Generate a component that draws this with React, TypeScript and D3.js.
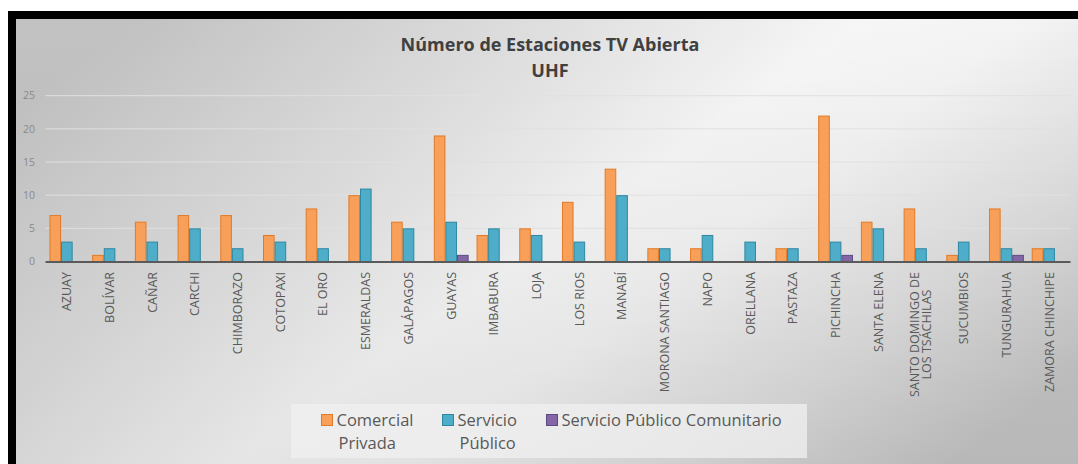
import React, { useEffect, useRef } from 'react';
import * as d3 from 'd3';

// provinces as printed on the axis ("\n" = forced line break)
const provincias = [
  'AZUAY', 'BOLÍVAR', 'CAÑAR', 'CARCHI', 'CHIMBORAZO', 'COTOPAXI', 'EL ORO',
  'ESMERALDAS', 'GALÁPAGOS', 'GUAYAS', 'IMBABURA', 'LOJA', 'LOS RIOS', 'MANABÍ',
  'MORONA SANTIAGO', 'NAPO', 'ORELLANA', 'PASTAZA', 'PICHINCHA', 'SANTA  ELENA',
  'SANTO DOMINGO DE\nLOS TSÁCHILAS', 'SUCUMBIOS', 'TUNGURAHUA', 'ZAMORA CHINCHIPE',
];

const comercialPrivada = [7, 1, 6, 7, 7, 4, 8, 10, 6, 19, 4, 5, 9, 14, 2, 2, 0, 2, 22, 6, 8, 1, 8, 2];
const servicioPublico = [3, 2, 3, 5, 2, 3, 2, 11, 5, 6, 5, 4, 3, 10, 2, 4, 3, 2, 3, 5, 2, 3, 2, 2];
const servicioComunitario = [0, 0, 0, 0, 0, 0, 0, 0, 0, 1, 0, 0, 0, 0, 0, 0, 0, 0, 1, 0, 0, 0, 1, 0];

const yTicks = [0, 5, 10, 15, 20, 25];

const series = [
  { name: 'Comercial\nPrivada', values: comercialPrivada, fill: '#f8a05a', stroke: '#e27a25' },
  { name: 'Servicio\nPúblico', values: servicioPublico, fill: '#4eadc8', stroke: '#2f87a2' },
  { name: 'Servicio Público Comunitario', values: servicioComunitario, fill: '#8466a6', stroke: '#5e4a82' },
];

const W = 1078;
const H = 464;
const FONT = '"Open Sans", "DejaVu Sans", sans-serif';

export default function App() {
  const ref = useRef<SVGSVGElement>(null);

  useEffect(() => {
    const svg = d3.select(ref.current);
    svg.selectAll('*').remove();

    const defs = svg.append('defs');
    const g1 = defs.append('linearGradient').attr('id', 'bg').attr('x1', 0).attr('y1', 0.2).attr('x2', 1).attr('y2', 0.8);
    [[0, '#c2c2c2'], [0.3, '#e0e0e0'], [0.5, '#f6f6f6'], [0.62, '#f3f3f3'], [0.82, '#dedede'], [1, '#c6c6c6']]
      .forEach(([o, c]) => g1.append('stop').attr('offset', o as number).attr('stop-color', c as string));
    const g2 = defs.append('linearGradient').attr('id', 'shade').attr('x1', 0).attr('y1', 0).attr('x2', 0).attr('y2', 1);
    g2.append('stop').attr('offset', 0).attr('stop-color', '#000').attr('stop-opacity', 0);
    g2.append('stop').attr('offset', 1).attr('stop-color', '#000').attr('stop-opacity', 0.07);

    // frame
    svg.append('rect').attr('width', W).attr('height', H).attr('fill', '#fff');
    svg.append('rect').attr('x', 8).attr('y', 11).attr('width', W - 8).attr('height', H - 11).attr('fill', '#000');
    svg.append('rect').attr('x', 16).attr('y', 19).attr('width', W - 16).attr('height', H - 19).attr('fill', 'url(#bg)');
    svg.append('rect').attr('x', 16).attr('y', 19).attr('width', W - 16).attr('height', H - 19).attr('fill', 'url(#shade)');

    const x0 = d3.scaleBand<number>().domain(d3.range(provincias.length)).range([45.5, 1070.5]);
    const barW = 11.6;
    const x1 = d3.scaleBand<number>().domain([0, 1, 2])
      .range([0, barW * 3]);
    const groupOff = (x0.bandwidth() - barW * 3) / 2;
    const y = d3.scaleLinear().domain([0, 25]).range([261.5, 95.7]);

    // gridlines + y labels
    svg.append('g').selectAll('line').data(yTicks.slice(1)).join('line')
      .attr('x1', 45.5).attr('x2', 1070.5)
      .attr('y1', d => y(d)).attr('y2', d => y(d))
      .attr('stroke', '#e0e0e0').attr('stroke-width', 1);
    svg.append('g').selectAll('text').data(yTicks).join('text')
      .attr('x', 35).attr('y', d => y(d)).attr('dy', '0.35em')
      .attr('text-anchor', 'end').attr('font-family', FONT).attr('font-size', 10.5)
      .attr('fill', '#8a8a8a').text(d => d);

    // bars
    series.forEach((s, si) => {
      svg.append('g').selectAll('rect').data(s.values.map((v, i) => ({ v, i }))).join('rect')
        .filter(d => d.v > 0)
        .attr('x', d => x0(d.i)! + groupOff + x1(si)! + 0.5)
        .attr('y', d => y(d.v) + 0.5)
        .attr('width', barW - 1)
        .attr('height', d => y(0) - y(d.v) - 0.5)
        .attr('fill', s.fill).attr('stroke', s.stroke).attr('stroke-width', 1);
    });

    // axis line
    svg.append('line').attr('x1', 45.5).attr('x2', 1070.5).attr('y1', y(0) + 0.5).attr('y2', y(0) + 0.5)
      .attr('stroke', '#5a5a5a').attr('stroke-width', 2);

    // category labels, rotated; extra lines centred on the longest one
    const labelTop = 272;
    provincias.forEach((p, i) => {
      const lines = p.split('\n');
      const cx = x0(i)! + x0.bandwidth() / 2;
      const lh = 12;
      const t = svg.append('text')
        .attr('font-family', FONT).attr('font-size', 12.5).attr('fill', '#595959')
        .attr('transform', `translate(${cx},${labelTop}) rotate(-90)`);
      const spans = lines.map((l, li) => t.append('tspan').attr('y', (li - (lines.length - 1) / 2) * lh).attr('dy', '0.35em').text(l));
      const lens = spans.map(sp => (sp.node() as SVGTSpanElement).getComputedTextLength());
      const maxLen = d3.max(lens)!;
      spans.forEach((sp, li) => sp.attr('x', -maxLen / 2 - lens[li] / 2));
    });

    // title
    const title = svg.append('text').attr('text-anchor', 'middle').attr('font-family', FONT)
      .attr('font-weight', 700).attr('font-size', 18).attr('fill', '#404040');
    title.append('tspan').attr('x', 550).attr('y', 51).text('Número de Estaciones TV Abierta');
    title.append('tspan').attr('x', 550).attr('y', 77).text('UHF');

    // legend
    svg.append('rect').attr('x', 291).attr('y', 404).attr('width', 516).attr('height', 54)
      .attr('fill', '#f0f0f0').attr('fill-opacity', 0.75);
    const legX = [321, 442, 546];
    series.forEach((s, si) => {
      const lg = svg.append('g').attr('transform', `translate(${legX[si]},414)`);
      lg.append('rect').attr('x', 0.5).attr('y', 0.5).attr('width', 11).attr('height', 11)
        .attr('fill', s.fill).attr('stroke', s.stroke);
      const t = lg.append('text').attr('font-family', FONT).attr('font-size', 16.5).attr('fill', '#595959');
      s.name.split('\n').forEach((l, li) => {
        t.append('tspan').attr('x', li === 0 ? 15.5 : 17.5).attr('y', 12 + li * 22.5).text(l);
      });
    });
  }, []);

  return (
    <svg ref={ref} width={W} height={H}
      style={{ position: 'absolute', left: 0, top: 0, display: 'block' }} />
  );
}
